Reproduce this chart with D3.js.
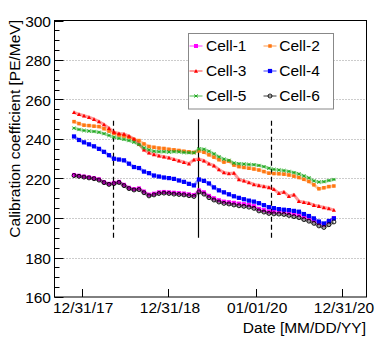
<!DOCTYPE html>
<html><head><meta charset="utf-8">
<script src="https://cdn.jsdelivr.net/npm/d3@7"></script>
<style>body{margin:0;background:#fff}svg{display:block}text{font-family:"Liberation Sans",Arial,Helvetica,sans-serif}</style>
</head><body><svg id="c" width="390" height="346"></svg>
<script>
const dates=["2017-11-29","2017-12-20","2018-01-10","2018-01-31","2018-02-21","2018-03-14","2018-04-04","2018-04-25","2018-05-16","2018-06-06","2018-06-27","2018-07-18","2018-08-08","2018-08-29","2018-09-19","2018-10-10","2018-10-31","2018-11-21","2018-12-12","2019-01-02","2019-01-23","2019-02-13","2019-03-06","2019-03-27","2019-04-17","2019-05-08","2019-05-29","2019-06-19","2019-07-10","2019-07-31","2019-08-21","2019-09-11","2019-10-02","2019-10-23","2019-11-13","2019-12-04","2019-12-25","2020-01-15","2020-02-05","2020-02-26","2020-03-18","2020-04-08","2020-04-29","2020-05-20","2020-06-10","2020-07-01","2020-07-22","2020-08-12","2020-09-02","2020-09-23","2020-10-14","2020-11-04","2020-11-25"];
const cell1=[221.8,221.4,221,220.6,220.2,219.6,218.2,217.3,217.8,218.3,216.8,215.3,214.6,215,213.4,211.8,212.3,213,213.2,213,212.8,212.6,212.4,212,211.6,214,213,211.2,210,209,208.3,208,207.7,207.3,207,206.6,206,204.6,204,203.3,203.2,203.2,203,202.5,202,201.5,200.6,199.9,198.8,197.5,196.6,198.2,200];
const cell2=[248.8,247.8,247,246.8,246.5,246.3,245.2,244,242.8,242,241.5,240.8,239.8,239.2,237.5,236.2,235.8,235.4,235.2,234.8,234.5,234.2,233.8,233.5,233.2,234,233.3,232,230.8,229.5,228.3,228.8,226.8,226,225.6,225.2,224.8,224.3,223.5,222.7,222.5,222.4,222.2,221.8,221.2,220.5,219.6,218.5,216.8,214.8,215.3,215.9,216.2];
const cell3=[253.5,252.5,251.8,251,250,248.8,247.3,245.5,243.5,242.8,242.5,241.5,240,237.5,234.5,233,232.2,231.5,231,230.5,229.7,229,228.2,227.5,229.5,229.8,229,227.5,226.5,224.5,223,222.5,222.8,219.5,218.8,218,217,216.5,216,215.5,214.5,212.5,213.2,211,211.8,208.5,208,207.5,206.5,206,205.3,204.8,204];
const cell4=[241.3,239.5,238.3,237.3,236.3,235,233.5,231.8,230,229.6,229.2,227.5,225.8,225.3,223.5,222.7,221.5,221,220.5,220.2,219.8,219,218.3,217.3,216.5,219.5,218.8,217.5,215.5,214,213,212,211,210.2,209.5,208.8,208.3,207.5,206.5,205.5,205,204.5,204.2,204,203.6,203.2,202,201,199.8,198.2,197.2,198.5,199.8];
const cell5=[245.5,244.8,244.3,244,243.8,243.4,242.7,241.8,240.9,240.3,239.8,239.2,238.4,237.2,235.5,234.5,233.8,233.6,233.6,233.4,233.6,233.5,233.2,233.1,233,235,234.8,233.8,232.5,231,229.8,229.2,227.8,227.5,227.3,227.1,227,226.6,226,225.2,224.6,224.3,224,223.6,223,222.3,221.3,220.3,218.8,218.2,218.4,219,219.5];
const cell6=[221.5,221.1,220.7,220.3,219.9,219.2,217.9,217,217.4,218,216.4,214.9,214.2,214.4,212.8,211.2,211.7,212.4,212.6,212.4,212.1,211.9,211.7,211.3,210.9,213.2,212.1,210.3,209.1,208.1,207.4,207.1,206.6,206.2,205.9,205.5,204.9,203.6,203,202.3,202.1,202,201.8,201.3,200.7,200.2,199.2,198.4,197.3,196,195.2,196.6,198];
const seriesNames=["Cell-1","Cell-2","Cell-3","Cell-4","Cell-5","Cell-6"];
const seriesValues=[cell1,cell2,cell3,cell4,cell5,cell6];
const xDomain=["2017-09-08","2021-04-11"];
const xTickDates=["2017-12-31","2018-12-31","2020-01-01","2020-12-31"];
const xTickLabels=["12/31/17","12/31/18","01/01/20","12/31/20"];
const yDomain=[160,300];
const yTicks=[160,180,200,220,240,260,280,300];
const vLineDates=["2018-05-13","2019-05-02","2020-03-05"];
const vLineStyles=["dashed","solid","dashed"];
const vLineRange=[190,250];

const styles=[
 {color:"#ff00ff",shape:"square",size:4},
 {color:"#ff7711",shape:"square",size:3.5},
 {color:"#ff0000",shape:"tri",size:3.5},
 {color:"#0000ff",shape:"square",size:4.2},
 {color:"#22aa22",shape:"x",size:3.2},
 {color:"#000000",shape:"circle",size:2}
];
const FS=15.5;
const parse=d3.utcParse("%Y-%m-%d");
const L=54.5,R=366.5,T=20.5,B=297;
const svg=d3.select("#c");
const x=d3.scaleUtc().domain(xDomain.map(parse)).range([L,R]);
const y=d3.scaleLinear().domain(yDomain).range([B,T]);

svg.append("g").selectAll("line").data(yTicks.filter(v=>v>yDomain[0]&&v<yDomain[1])).join("line")
 .attr("x1",L).attr("x2",R).attr("y1",d=>Math.round(y(d))+0.5).attr("y2",d=>Math.round(y(d))+0.5)
 .attr("stroke","#999").attr("stroke-dasharray","1,2");

const yMinor=d3.range(yDomain[0],yDomain[1]+0.1,5);
svg.append("g").selectAll("line").data(yMinor).join("line")
 .attr("x1",L).attr("x2",d=>L+(d%20===0?9:5))
 .attr("y1",d=>Math.round(y(d))+0.5).attr("y2",d=>Math.round(y(d))+0.5)
 .attr("stroke","#000");
svg.append("g").selectAll("text").data(yTicks).join("text")
 .attr("x",51).attr("y",d=>y(d)+0.5).attr("text-anchor","end").attr("dominant-baseline","central")
 .attr("font-size",FS).text(d=>d);

svg.append("g").selectAll("line").data(xTickDates).join("line")
 .attr("x1",d=>Math.round(x(parse(d)))+0.5).attr("x2",d=>Math.round(x(parse(d)))+0.5)
 .attr("y1",B).attr("y2",B-8).attr("stroke","#000");
svg.append("g").selectAll("text").data(xTickDates).join("text")
 .attr("x",d=>x(parse(d))+1.5).attr("y",313).attr("text-anchor","middle").attr("font-size",FS)
 .text((d,i)=>xTickLabels[i]);

svg.append("g").selectAll("line").data(vLineDates).join("line")
 .attr("x1",d=>Math.round(x(parse(d)))+0.5).attr("x2",d=>Math.round(x(parse(d)))+0.5)
 .attr("y1",y(vLineRange[0])).attr("y2",y(vLineRange[1]))
 .attr("stroke","#000").attr("stroke-width",1.2)
 .attr("stroke-dasharray",(d,i)=>vLineStyles[i]==="dashed"?"5,3":null);

function marker(g,s,cx,cy){
 const h=s.size/2;
 if(s.shape==="square") g.append("rect").attr("x",cx-h).attr("y",cy-h).attr("width",s.size).attr("height",s.size).attr("fill",s.color);
 else if(s.shape==="tri") g.append("path").attr("d",`M${cx},${cy-h-0.3}L${cx+h+0.3},${cy+h}L${cx-h-0.3},${cy+h}Z`).attr("fill",s.color);
 else if(s.shape==="x") g.append("path").attr("d",`M${cx-h},${cy-h}L${cx+h},${cy+h}M${cx-h},${cy+h}L${cx+h},${cy-h}M${cx-h},${cy}L${cx+h},${cy}`).attr("stroke",s.color).attr("stroke-width",1);
 else g.append("circle").attr("cx",cx).attr("cy",cy).attr("r",s.size).attr("fill","none").attr("stroke",s.color).attr("stroke-width",0.9);
}

const line=d3.line().x(d=>x(d[0])).y(d=>y(d[1]));
seriesValues.forEach((vals,k)=>{
 const s=styles[k];
 const pts=vals.map((v,i)=>[parse(dates[i]),v]);
 const g=svg.append("g");
 g.append("path").datum(pts).attr("d",line).attr("fill","none").attr("stroke",s.color).attr("stroke-opacity",0.4).attr("stroke-width",3);
 pts.forEach(p=>marker(g,s,x(p[0]),y(p[1])));
});

svg.append("rect").attr("x",L).attr("y",T).attr("width",R-L).attr("height",B-T).attr("fill","none").attr("stroke","#000");

const lg=svg.append("g");
lg.append("rect").attr("x",188.5).attr("y",33.5).attr("width",145).attr("height",75.5).attr("fill","#fff").attr("stroke","#888");
seriesNames.forEach((n,k)=>{
 const col=k%2,row=Math.floor(k/2);
 const lx=col?263.5:189.5, cy=46+row*25;
 const s=styles[k];
 lg.append("line").attr("x1",lx).attr("x2",lx+13).attr("y1",cy).attr("y2",cy).attr("stroke",s.color).attr("stroke-opacity",0.5).attr("stroke-width",1.5);
 marker(lg,s,lx+6.5,cy);
 lg.append("text").attr("x",col?279.3:206).attr("y",cy+5.4).attr("font-size",FS).text(n);
});

svg.append("text").attr("transform","translate(20,20) rotate(-90)").attr("text-anchor","end").attr("font-size",FS).text("Calibration coefficient [PE/MeV]");
svg.append("text").attr("x",366).attr("y",333).attr("text-anchor","end").attr("font-size",FS).text("Date [MM/DD/YY]");
</script></body></html>
